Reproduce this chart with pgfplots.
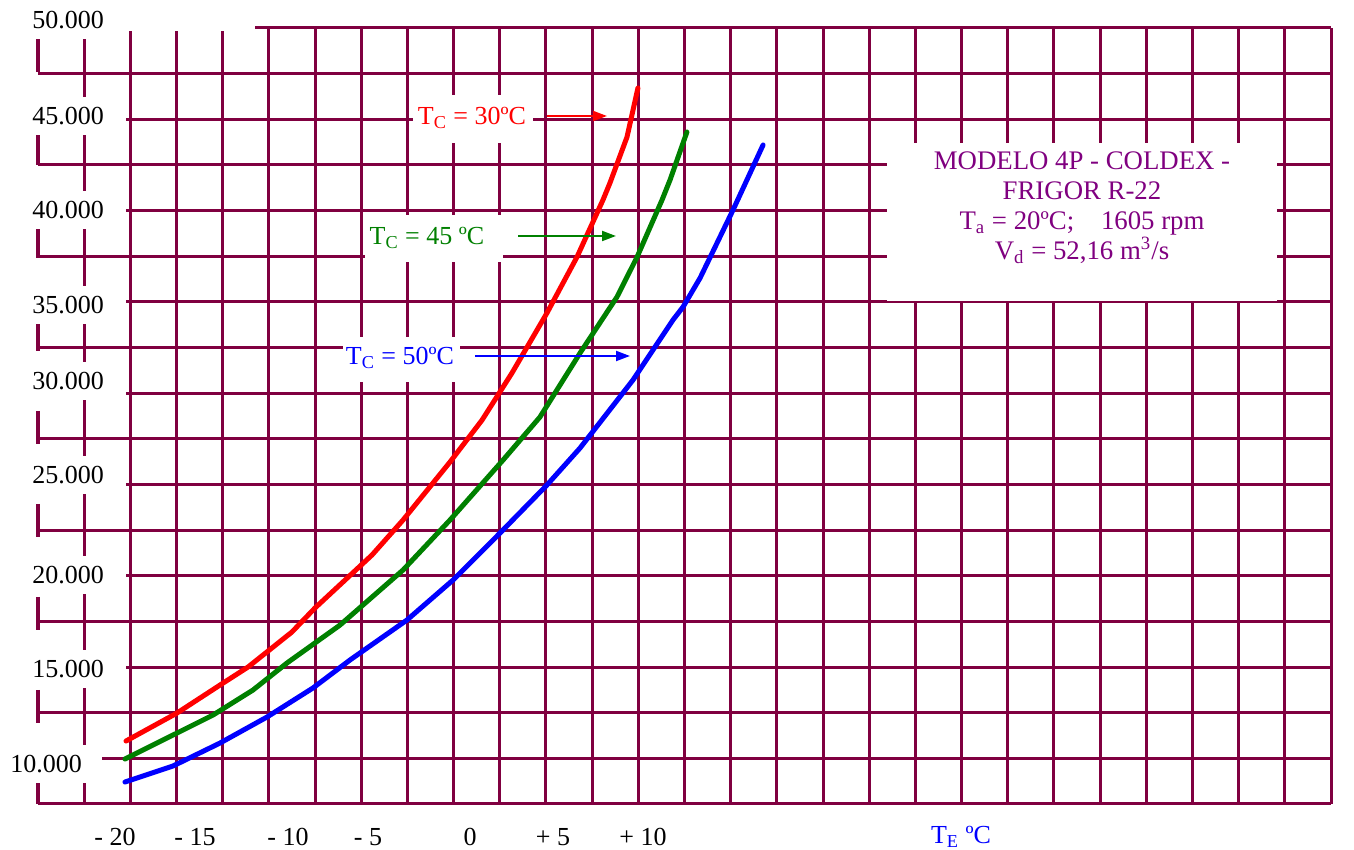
\documentclass[border=0pt]{standalone}
\usepackage{fontspec}
\setmainfont{Liberation Serif}
\usepackage{pgfplots}
\pgfplotsset{compat=1.18}
\usetikzlibrary{arrows.meta}
\definecolor{gridc}{RGB}{128,0,64}
\definecolor{tpurple}{RGB}{128,0,128}
\definecolor{tgreen}{RGB}{0,128,0}

\pgfplotstableread{
x y
-20.00 10949
-17.01 12483
-14.49 14016
-12.85 15002
-10.28 16919
-8.93 18233
-5.59 21136
-3.77 23053
-1.02 26230
0.86 28530
2.61 31104
4.66 34391
6.42 37458
7.94 40580
8.35 41511
9.35 44030
9.99 46714
}\redtc

\pgfplotstableread{
x y
-20.06 9963
-17.01 11387
-14.90 12373
-12.56 13742
-10.57 15221
-7.46 17302
-3.77 20315
-1.02 23053
2.09 26339
4.25 28694
6.60 32200
8.76 35267
9.94 37458
11.40 40580
11.87 41675
12.86 44304
}\greentc

\pgfplotstableread{
x y
-20.06 8703
-17.25 9580
-14.49 10839
-11.74 12263
-9.05 13852
-6.88 15385
-3.54 17576
-0.84 19767
1.91 22341
4.66 24970
6.60 26997
9.70 30721
12.04 34007
12.63 34719
13.63 36307
15.56 40032
17.32 43592
}\bluetc

\begin{document}
\begin{tikzpicture}[every node/.style={font=\fontsize{13}{15}\selectfont}]
\begin{axis}[at={(0pt,0pt)},anchor=south west, scale only axis,
  width=646.5pt, height=388pt,
  xmin=-25.155, xmax=50.59, ymin=7500, ymax=50000,
  xtick={-22.4497,-19.7444,...,50.6},
  ytick={7500,10000,...,50000},
  scaled ticks=false,
  xticklabels={}, yticklabels={}, major tick length=0pt,
  tick label style={inner sep=0pt, font=\tiny},
  grid=major, major grid style={draw=gridc, line width=1.5pt},
  axis line style={draw=none}, clip=false]
\addplot[red, line width=2.5pt, line cap=round, line join=round] table {\redtc};
\addplot[tgreen, line width=2.5pt, line cap=round, line join=round] table {\greentc};
\addplot[blue, line width=2.5pt, line cap=round, line join=round] table {\bluetc};
\end{axis}
\begin{scope}[shift={(-19pt,402pt)},x=0.5pt,y=-0.5pt]
\pgfresetboundingbox
\path[use as bounding box] (0,0) rectangle (1354,850);
% left dashed column
\draw[gridc, line width=1.5pt, dash pattern=on 16.5pt off 30pt] (38,39) -- (38,804);
% top-left white area
\fill[white] (0,0) rectangle (255,31);
% y labels
\foreach \v/\yy in {50.000/20, 45.000/116, 40.000/210, 35.000/305, 30.000/381, 25.000/475, 20.000/575, 15.000/669}
  \node[fill=white, minimum width=58pt, minimum height=19pt, inner sep=0pt] at (68,\yy) {\v};
\node[fill=white, minimum width=56pt, minimum height=19pt, inner sep=0pt] at (46,764) {10.000};
% x labels
\foreach \t/\xx in {- 20/115, - 15/195, - 10/288, - 5/368, 0/470, + 5/553, + 10/643}
  \node at (\xx,837) {\t};
\node[blue] at (961,837) {T\textsubscript{E} ºC};
% curve labels
\fill[white] (413,95) rectangle (533,143);
\node[red] at (472,118) {T\textsubscript{C} = 30ºC};
\draw[red, line width=1pt, -{Triangle[length=7pt,width=5pt]}] (547,116) -- (607,116);
\fill[white] (365,215) rectangle (503,262);
\node[tgreen] at (427,238) {T\textsubscript{C} = 45 ºC};
\draw[tgreen, line width=1pt, -{Triangle[length=7pt,width=5pt]}] (518,236) -- (616,236);
\fill[white] (343,337) rectangle (460,382);
\node[blue] at (400,358) {T\textsubscript{C} = 50ºC};
\draw[blue, line width=1pt, -{Triangle[length=7pt,width=5pt]}] (475,356) -- (630,356);
% info box
\fill[white] (887,143) rectangle (1277,301.5);
\node[tpurple, align=center, font=\fontsize{13.4}{15}\selectfont] at (1082,208)
  {MODELO 4P - COLDEX -\\ FRIGOR R-22\\ T\textsubscript{a} = 20ºC;\enspace\enspace 1605 rpm\\ V\textsubscript{d} = 52,16 m\textsuperscript{3}/s};
\end{scope}
\end{tikzpicture}
\end{document}
